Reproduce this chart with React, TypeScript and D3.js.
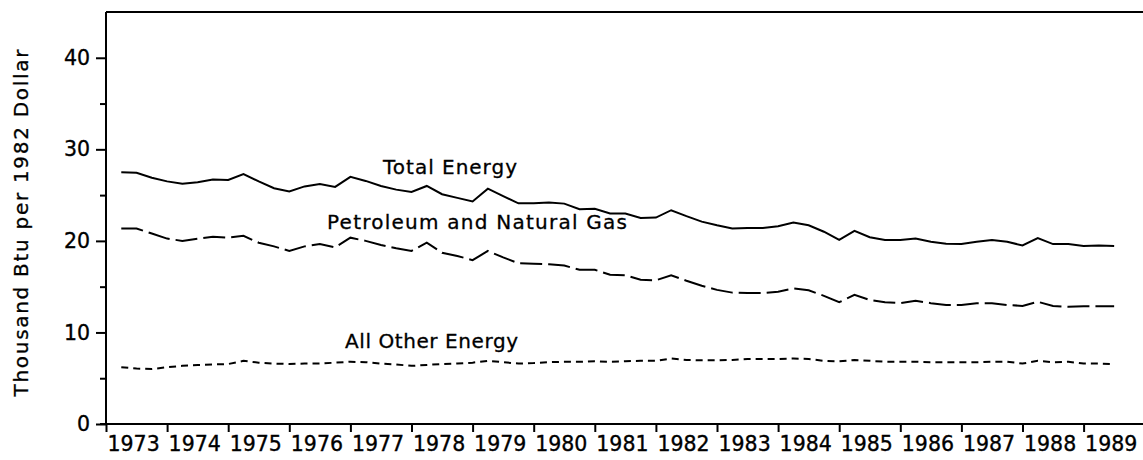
import * as d3 from "d3";
import { useRef, useEffect } from "react";

// quarterly values, 1973 Q1 .. 1989 Q2 (thousand Btu per 1982 dollar)
const total = [
  27.5, 27.45, 26.9, 26.5,
  26.25, 26.4, 26.7, 26.65,
  27.3, 26.5, 25.75, 25.4,
  25.95, 26.2, 25.9, 27.0,
  26.55, 26.0, 25.6, 25.35,
  26.0, 25.1, 24.7, 24.3,
  25.7, 24.9, 24.1, 24.1,
  24.2, 24.07, 23.45, 23.5,
  23.0, 23.0, 22.5, 22.55,
  23.35, 22.7, 22.1, 21.7,
  21.35, 21.4, 21.4, 21.6,
  22.0, 21.7, 21.0, 20.1,
  21.1, 20.4, 20.1, 20.1,
  20.25, 19.9, 19.7, 19.65,
  19.9, 20.1, 19.9, 19.5,
  20.3, 19.65, 19.65, 19.45,
  19.5, 19.45,
];

const petroleum = [
  21.35, 21.35, 20.8, 20.25,
  20.0, 20.25, 20.45, 20.35,
  20.55, 19.8, 19.4, 18.9,
  19.4, 19.65, 19.3, 20.35,
  20.0, 19.55, 19.2, 18.9,
  19.8, 18.7, 18.35, 17.9,
  18.9, 18.2, 17.55, 17.5,
  17.45, 17.3, 16.85, 16.85,
  16.3, 16.25, 15.75, 15.7,
  16.25, 15.65, 15.1, 14.65,
  14.35, 14.3, 14.3, 14.45,
  14.8, 14.6, 14.0, 13.3,
  14.1, 13.55, 13.3, 13.2,
  13.45, 13.2, 13.0, 13.0,
  13.2, 13.2, 13.0, 12.9,
  13.35, 12.9, 12.8, 12.85,
  12.85, 12.85,
];

const otherEnergy = [
  6.2, 6.05, 6.0, 6.2,
  6.35, 6.45, 6.5, 6.55,
  6.9, 6.7, 6.6, 6.55,
  6.6, 6.6, 6.7, 6.8,
  6.75, 6.6, 6.5, 6.35,
  6.45, 6.55, 6.6, 6.7,
  6.9, 6.75, 6.6, 6.65,
  6.75, 6.8, 6.8, 6.85,
  6.8, 6.85, 6.9, 6.9,
  7.15, 7.0, 6.95, 6.95,
  7.0, 7.1, 7.1, 7.1,
  7.15, 7.1, 6.9, 6.85,
  7.0, 6.9, 6.8, 6.8,
  6.8, 6.75, 6.75, 6.75,
  6.75, 6.8, 6.8, 6.6,
  6.9, 6.75, 6.8, 6.6,
  6.6, 6.55,
];

const years = d3.range(1973, 1990);
const yMajor = [0, 10, 20, 30, 40];
const yMinor = [5, 15, 25, 35];
const yTitle = "Thousand Btu per 1982 Dollar";

const font = "'DejaVu Sans', sans-serif";

export default function App() {
  const svgRef = useRef<SVGSVGElement>(null);

  const width = 1143;
  const height = 460;
  const left = 106;
  const top = 12;
  const bottom = 424;

  const x = d3.scaleLinear().domain([1973, 1990]).range([left, left + 17 * 61.1]);
  const y = d3.scaleLinear().domain([0, 45]).range([bottom, top]);

  // quarter-end position of each value
  const qx = (i: number) => 1973 + (i + 1) / 4;

  const line = d3
    .line<number>()
    .x((_, i) => x(qx(i)))
    .y((d) => y(d));

  useEffect(() => {
    const svg = d3.select(svgRef.current);

    const xa = svg
      .select<SVGGElement>(".x-axis")
      .attr("transform", `translate(0,${bottom})`)
      .call(d3.axisBottom(x).tickValues(years).tickFormat(d3.format("d")).tickSize(8).tickSizeOuter(0));
    xa.select(".domain").remove();
    xa.selectAll("line").attr("stroke-width", 2);
    xa.selectAll("text")
      .attr("font-size", 20.5)
      .attr("font-family", font)
      .attr("fill", "#000")
      .attr("stroke", "#000")
      .attr("stroke-width", 0.35)
      .attr("text-anchor", "start")
      .attr("dx", 1)
      .attr("y", 12)
      .attr("dy", "0.71em");

    const ya = svg
      .select<SVGGElement>(".y-axis")
      .attr("transform", `translate(${left},0)`)
      .call(d3.axisLeft(y).tickValues(yMajor).tickSize(10).tickPadding(6));
    ya.select(".domain").remove();
    ya.selectAll("line").attr("stroke-width", 2);
    ya.selectAll("text")
      .attr("font-size", 20.5)
      .attr("font-family", font)
      .attr("fill", "#000")
      .attr("stroke", "#000")
      .attr("stroke-width", 0.35);

    svg
      .select<SVGGElement>(".y-minor")
      .attr("transform", `translate(${left},0)`)
      .call(d3.axisLeft(y).tickValues(yMinor).tickSize(6).tickFormat(() => ""))
      .call((g) => g.select(".domain").remove())
      .selectAll("line")
      .attr("stroke-width", 2);
  }, []);

  return (
    <svg
      ref={svgRef}
      width={width}
      height={height}
      style={{ position: "absolute", left: 0, top: 0, background: "#fff" }}
    >
      {/* frame: left axis, bottom axis, top rule */}
      <line x1={left} x2={left} y1={top} y2={bottom} stroke="#000" strokeWidth={2} />
      <line x1={left - 6} x2={width} y1={bottom} y2={bottom} stroke="#000" strokeWidth={2} />
      <line x1={left} x2={width} y1={top} y2={top} stroke="#000" strokeWidth={2} />

      <g className="x-axis" />
      <g className="y-axis" />
      <g className="y-minor" />

      <path d={line(total) ?? ""} fill="none" stroke="#000" strokeWidth={2} />
      <path d={line(petroleum) ?? ""} fill="none" stroke="#000" strokeWidth={2} strokeDasharray="22,6" />
      <path d={line(otherEnergy) ?? ""} fill="none" stroke="#000" strokeWidth={2} strokeDasharray="7,5" />

      <g fontFamily={font} fontSize={20} fill="#000" stroke="#000" strokeWidth={0.3}>
        <text x={383} y={174} textLength={134} lengthAdjust="spacing">Total Energy</text>
        <text x={327} y={229} textLength={300} lengthAdjust="spacing">Petroleum and Natural Gas</text>
        <text x={345} y={348} textLength={173} lengthAdjust="spacing">All Other Energy</text>
        <text
          transform="translate(28,223) rotate(-90)"
          textAnchor="middle"
          textLength={347}
          lengthAdjust="spacing"
        >
          {yTitle}
        </text>
      </g>
    </svg>
  );
}
